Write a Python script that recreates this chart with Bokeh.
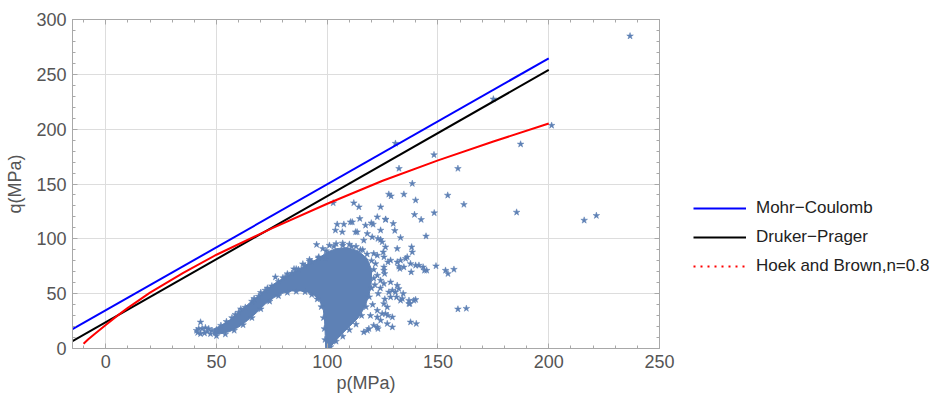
from bokeh.plotting import figure
from bokeh.layouts import row
from bokeh.models import (Range1d, LinearAxis, Legend, LegendItem,
                          SingleIntervalTicker, CustomJSTickFormatter)
from bokeh.embed import file_html
from bokeh.resources import INLINE

# ---------------- data ----------------
x_tick_step = 50
y_tick_step = 50

# Mohr-Coulomb line
mc_p = [-15, 200]
mc_q = [17.6, 264.6]
# Druker-Prager line
dp_p = [-15, 200]
dp_q = [6.7, 254.0]
# Hoek and Brown curve
hb_p = [-10, -8, -5, 0, 5, 10, 20, 35, 50, 75, 100, 125, 150, 175, 200]
hb_q = [4.3, 8.2, 13.3, 21.5, 29.5, 37.0, 51.0, 69.0, 85.5, 109.5, 132.0, 153.0, 171.5, 188.7, 205.2]

# dense part of the measured stress cloud (outline)
cloud_p = [48.5, 52, 56, 60, 64, 68, 72, 76, 80, 84, 88, 91, 94, 96.5, 98.2, 98.8, 99.1, 99.3,
           100.7, 103, 106, 110, 114, 117, 119, 120, 120, 118, 114, 109, 104, 100, 96, 92, 88,
           84, 80, 76, 72, 68, 64, 60, 56, 52, 49]
cloud_q = [12.5, 13.5, 15.5, 19.5, 25.5, 32.5, 40.5, 46.5, 50.5, 52.5, 52.5, 51.5, 48.5, 44, 36, 25, 12, 0,
           0, 5, 12, 20, 28, 38, 50, 62, 72, 82, 89, 92, 91, 88, 82, 78, 73.5,
           69, 64, 59, 53, 46.5, 40, 33, 26, 21, 18]

# individual measured points (p, q)
pts_p = [
    41, 42, 43.5, 45, 46.5, 42.8, 44.6, 47.3, 48, 42.8, 41.5, 45.8,
    50, 52, 54.5, 57, 60, 63, 66, 69, 72, 75, 78, 81, 84, 87, 90, 93, 96, 61, 67, 73, 80, 86, 92, 76.6, 58.5, 70,
    50, 54, 58, 62, 66, 70, 74, 78, 82, 86, 90, 93, 95.5, 97.3, 98.3, 98.7, 99,
    101.5, 104, 107, 110, 113, 115.5, 117.5, 119, 120, 121, 121, 120, 118, 115, 111, 107, 103, 99.5, 96.2, 99.2, 95.2,
    102.7, 112, 114.3, 124.1, 127.8, 128.8, 134.6, 132.4, 138.4, 139.9, 130.8, 148.2, 159, 154.4, 161.7, 148.3,
    139.4, 142.4, 126.4, 129.8, 130.5, 144.6, 133.1, 122.6, 117.3, 120.7, 111.3, 107.5, 104.5, 103.7, 106.8,
    112.8, 118.1, 120.3, 124.1, 124.8, 116.5, 124.1, 110.5, 114.7, 119.9, 126.3, 113.5, 122.9, 175, 187.3,
    201.3, 236.7, 185.5, 216, 221.5,
    138.1, 138.4, 131.6, 125.3, 121, 122.6, 125.6, 128.6, 127.4, 121.8, 125.6, 131.6, 133.1, 135.4, 132.3,
    132.8, 137.6, 139.9, 141.4, 143.3, 143.9, 137.9, 125.6, 125.9, 122.6, 124.1, 125.6, 128.6, 131.6, 132.3,
    129.4, 130.8, 134.3, 127.8, 128.6, 131.3, 133.1, 133.9, 136.9, 139.1, 137.3, 125.6, 127.1, 122.6, 124.8,
    127.4, 129.4, 122.6, 121, 127.1, 129.4, 122.9, 118.8, 116.5, 137.6, 140.2, 149.1, 153.4, 154.5, 157.2,
    159, 162.8, 126.3, 136.1, 134.6, 144.9, 136.9, 139.9, 124.1, 126.3, 122.6, 118.1, 120.5, 119.5, 123,
    121.5, 126, 124,
    98, 101, 104, 107, 110, 113, 116, 92, 89, 85, 82,
]
pts_q = [
    16.4, 18, 18, 18.9, 18, 13.4, 14, 13.4, 16.4, 24, 14.5, 15.5,
    17, 21, 24.5, 28, 33, 37.5, 43, 47.5, 53, 57, 61, 65, 68.5, 72, 75.5, 79, 82.5, 36, 45.5, 55, 64.5, 72.5, 79.5, 65.1, 31, 51,
    11.5, 13, 16.5, 21.5, 28, 36, 43, 48, 51, 52, 51.5, 49, 45, 38, 28, 18, 8,
    1.5, 6.5, 11, 17, 22, 30, 38, 47, 55, 64, 72, 80, 86, 90, 93, 94, 93, 89, 83.4, 81.9, 94.7,
    132.7, 132.7, 129, 129, 140.6, 139, 140.6, 164.1, 150.4, 135.2, 187, 176.6, 164.1, 139.7, 131.3, 123.6,
    122.1, 117.5, 117.8, 113.9, 107.5, 102.4, 101, 119.9, 112.3, 113.2, 115.3, 113.2, 113.2, 107.8, 106.2,
    106.2, 104.7, 101.6, 99.3, 97.1, 98.6, 107.8, 115.3, 118.4, 114.4, 117.5, 106.2, 100.2, 227.4, 186.3,
    203.4, 284.9, 124.2, 116.9, 121.2,
    92.5, 87.9, 91, 87.9, 86.5, 84.9, 83.4, 80.4, 78.8, 77.3, 74.2, 78.8, 80.4, 81.9, 74.9,
    72.8, 77.3, 75.8, 75.8, 74.2, 71.2, 69.7, 71.2, 68.2, 66.7, 62.1, 59.1, 60.5, 57.5, 54.5,
    53, 51.4, 50, 51.4, 46.9, 46.9, 43.8, 45.4, 43.8, 43.8, 40.8, 40.8, 37.7, 34.7, 31.7,
    30.1, 28.6, 28.6, 21, 22.6, 19.5, 18, 18, 14.9, 24, 22.6, 75.2, 71.2, 68.2, 72.1,
    35.9, 36.5, 92.5, 83.4, 74.2, 71.2, 40.8, 44.5, 25.6, 31.7, 19.5, 16.4, 40, 30, 50,
    58, 45, 55,
    91, 94, 95.5, 96, 95, 93, 90, 81, 77, 72.5, 68,
]

labels = ["Mohr\u2212Coulomb", "Druker\u2212Prager", "Hoek and Brown,n=0.8"]

# ---------------- styling ----------------
FONT = "Liberation Sans"
GRAY = "#555555"
AXIS_C = "#a8a8a8"
PT_C = "#5E81B5"

p = figure(width=680, height=396, x_range=Range1d(-15, 250), y_range=Range1d(0, 300),
           output_backend="svg", toolbar_location=None,
           min_border_left=72, min_border_right=21, min_border_top=19, min_border_bottom=48)
p.background_fill_color = "white"
p.border_fill_color = "white"
p.outline_line_color = AXIS_C

xt = SingleIntervalTicker(interval=x_tick_step, num_minor_ticks=5)
yt = SingleIntervalTicker(interval=y_tick_step, num_minor_ticks=5)
p.xaxis.ticker = xt
p.yaxis.ticker = yt
p.xgrid.ticker = xt
p.ygrid.ticker = yt
p.grid.grid_line_color = "#dddddd"
p.grid.grid_line_width = 1

for ax in (p.xaxis[0], p.yaxis[0]):
    ax.axis_line_color = AXIS_C
    ax.major_tick_line_color = AXIS_C
    ax.minor_tick_line_color = AXIS_C
    ax.major_tick_in = 5
    ax.major_tick_out = 0
    ax.minor_tick_in = 3
    ax.minor_tick_out = 0
    ax.major_label_text_font = FONT
    ax.major_label_text_font_size = "18px"
    ax.major_label_text_color = GRAY
    ax.major_label_standoff = 6
    ax.axis_label_text_font = FONT
    ax.axis_label_text_font_size = "18px"
    ax.axis_label_text_font_style = "normal"
    ax.axis_label_text_color = GRAY

p.xaxis.axis_label = "p(MPa)"
p.yaxis.axis_label = "q(MPa)"
p.xaxis.axis_label_standoff = 2
p.yaxis.axis_label_standoff = 8

blank = CustomJSTickFormatter(code="return ''")
for loc, tk in (("above", xt), ("right", yt)):
    ax = LinearAxis(ticker=tk, formatter=blank)
    ax.axis_line_color = AXIS_C
    ax.major_tick_line_color = AXIS_C
    ax.minor_tick_line_color = AXIS_C
    ax.major_tick_in = 5
    ax.major_tick_out = 0
    ax.minor_tick_in = 3
    ax.minor_tick_out = 0
    ax.major_label_standoff = 0
    p.add_layout(ax, loc)

# cloud
p.patch(cloud_p, cloud_q, fill_color=PT_C, line_color=PT_C, line_width=1)
p.scatter(pts_p, pts_q, marker="star", size=7, fill_color=PT_C, line_color=PT_C, line_width=0.5)

p.line(mc_p, mc_q, line_color="#0000ff", line_width=2)
p.line(dp_p, dp_q, line_color="#000000", line_width=2)
p.line(hb_p, hb_q, line_color="#ff0000", line_width=2)

# ---------------- legend panel ----------------
# ranges chosen far from the data so that only the legend swatches are seen here
lg = figure(width=251, height=396, output_backend="svg", toolbar_location=None,
            x_axis_type=None, y_axis_type=None,
            x_range=Range1d(1000, 1001), y_range=Range1d(1000, 1001),
            min_border_left=0, min_border_right=0, min_border_top=0, min_border_bottom=0)
lg.outline_line_color = None
lg.grid.visible = False
lg.background_fill_color = "white"
lg.border_fill_color = "white"
l_mc = lg.line(mc_p, mc_q, line_color="#0000ff", line_width=2)
l_dp = lg.line(dp_p, dp_q, line_color="#000000", line_width=2)
l_hb = lg.line(hb_p, hb_q, line_color="#ff0000", line_width=2, line_dash="2 5")

legend = Legend(items=[LegendItem(label=labels[0], renderers=[l_mc]),
                       LegendItem(label=labels[1], renderers=[l_dp]),
                       LegendItem(label=labels[2], renderers=[l_hb])],
                location=(13, 72), padding=0, margin=0, spacing=9,
                glyph_width=53, glyph_height=20, label_height=20, label_standoff=10,
                label_text_font=FONT, label_text_font_size="17px", label_text_color="#222222",
                border_line_color=None, background_fill_alpha=0)
lg.add_layout(legend)

layout = row(p, lg, spacing=0)
open("out.html", "w").write(file_html(layout, INLINE))
